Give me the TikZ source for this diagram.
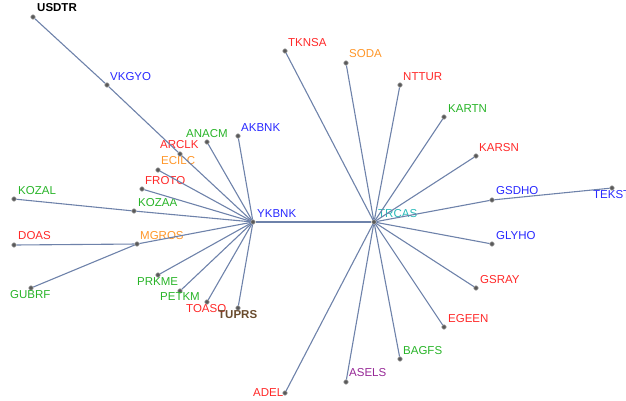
\documentclass[tikz,border=0pt]{standalone}
\usepackage{fontspec}
\setmainfont{Liberation Sans}

\definecolor{edgeblue}{RGB}{110,130,170}
\definecolor{tred}{RGB}{255,40,40}
\definecolor{tgreen}{RGB}{40,180,40}
\definecolor{tblue}{RGB}{40,40,255}
\definecolor{torange}{RGB}{255,150,40}
\definecolor{tteal}{RGB}{40,185,185}
\definecolor{tpurple}{RGB}{150,40,150}
\definecolor{tbrown}{RGB}{105,75,45}

\tikzset{
  dot/.style={circle, inner sep=0pt, minimum size=4.5pt, fill=black!65, draw=black!35, line width=0.6pt},
  lbl/.style={anchor=west, inner sep=0pt, font=\fontsize{11.5}{13}\selectfont},
  link/.style={edgeblue, line width=1.1pt}
}

\begin{document}
\begin{tikzpicture}[x=1pt, y=-1pt]

    \useasboundingbox (0,0) rectangle (626,400);

    % left cluster
    \node[dot] (usdtr) at (33,17) {};
    \node[lbl, text=black, font=\fontsize{11.5}{13}\selectfont\bfseries] (usdtr-l) at (37,8) {USDTR};
    \node[dot] (vkgyo) at (107,85) {};
    \node[lbl, text=tblue] (vkgyo-l) at (110,77) {VKGYO};
    \node[dot] (arclk) at (180,154) {};
    \node[lbl, text=tred] (arclk-l) at (160,145) {ARCLK};
    \node[dot] (anacm) at (207,142) {};
    \node[lbl, text=tgreen] (anacm-l) at (186,134) {ANACM};
    \node[dot] (akbnk) at (238,136) {};
    \node[lbl, text=tblue] (akbnk-l) at (241,128) {AKBNK};
    \node[dot] (ecilc) at (158,170) {};
    \node[lbl, text=torange] (ecilc-l) at (161,161) {ECILC};
    \node[dot] (froto) at (142,189) {};
    \node[lbl, text=tred] (froto-l) at (145,181) {FROTO};
    \node[dot] (kozal) at (14,199) {};
    \node[lbl, text=tgreen] (kozal-l) at (18,191) {KOZAL};
    \node[dot] (kozaa) at (134,211) {};
    \node[lbl, text=tgreen] (kozaa-l) at (138,203) {KOZAA};
    \node[dot] (ykbnk) at (253,222) {};
    \node[lbl, text=tblue] (ykbnk-l) at (257,214) {YKBNK};
    \node[dot] (doas) at (14,245) {};
    \node[lbl, text=tred] (doas-l) at (18,236) {DOAS};
    \node[dot] (mgros) at (137,244) {};
    \node[lbl, text=torange] (mgros-l) at (140,236) {MGROS};
    \node[dot] (gubrf) at (31,288) {};
    \node[lbl, text=tgreen] (gubrf-l) at (10,295) {GUBRF};
    \node[dot] (prkme) at (158,275) {};
    \node[lbl, text=tgreen] (prkme-l) at (137,282) {PRKME};
    \node[dot] (petkm) at (180,291) {};
    \node[lbl, text=tgreen] (petkm-l) at (160,297) {PETKM};
    \node[dot] (toaso) at (207,302) {};
    \node[lbl, text=tred] (toaso-l) at (186,309) {TOASO};
    \node[dot] (tuprs) at (238,308) {};
    \node[lbl, text=tbrown, font=\fontsize{11.5}{13}\selectfont\bfseries] (tuprs-l) at (218,315) {TUPRS};

    % right cluster
    \node[dot] (trcas) at (374,222) {};
    \node[lbl, text=tteal] (trcas-l) at (378,214) {TRCAS};
    \node[dot] (tknsa) at (285,51) {};
    \node[lbl, text=tred] (tknsa-l) at (288,43) {TKNSA};
    \node[dot] (soda) at (346,63) {};
    \node[lbl, text=torange] (soda-l) at (349,54) {SODA};
    \node[dot] (nttur) at (400,85) {};
    \node[lbl, text=tred] (nttur-l) at (403,77) {NTTUR};
    \node[dot] (kartn) at (444,117) {};
    \node[lbl, text=tgreen] (kartn-l) at (448,109) {KARTN};
    \node[dot] (karsn) at (476,156) {};
    \node[lbl, text=tred] (karsn-l) at (479,148) {KARSN};
    \node[dot] (gsdho) at (492,200) {};
    \node[lbl, text=tblue] (gsdho-l) at (496,191) {GSDHO};
    \node[dot] (tekst) at (612,188) {};
    \node[lbl, text=tblue] (tekst-l) at (593,195) {TEKST};
    \node[dot] (glyho) at (492,244) {};
    \node[lbl, text=tblue] (glyho-l) at (496,236) {GLYHO};
    \node[dot] (gsray) at (476,288) {};
    \node[lbl, text=tred] (gsray-l) at (480,280) {GSRAY};
    \node[dot] (egeen) at (444,327) {};
    \node[lbl, text=tred] (egeen-l) at (448,319) {EGEEN};
    \node[dot] (bagfs) at (400,359) {};
    \node[lbl, text=tgreen] (bagfs-l) at (403,351) {BAGFS};
    \node[dot] (asels) at (346,382) {};
    \node[lbl, text=tpurple] (asels-l) at (349,373) {ASELS};
    \node[dot] (adel) at (285,393) {};
    \node[lbl, text=tred] (adel-l) at (253,393) {ADEL};

    % edges
    \draw[link] (usdtr) -- (vkgyo);
    \draw[link] (vkgyo) -- (arclk);
    \draw[link] (arclk) -- (ykbnk);
    \draw[link] (anacm) -- (ykbnk);
    \draw[link] (akbnk) -- (ykbnk);
    \draw[link] (ecilc) -- (ykbnk);
    \draw[link] (froto) -- (ykbnk);
    \draw[link] (kozal) -- (kozaa);
    \draw[link] (kozaa) -- (ykbnk);
    \draw[link] (doas) -- (mgros);
    \draw[link] (gubrf) -- (mgros);
    \draw[link] (mgros) -- (ykbnk);
    \draw[link] (prkme) -- (ykbnk);
    \draw[link] (petkm) -- (ykbnk);
    \draw[link] (toaso) -- (ykbnk);
    \draw[link] (tuprs) -- (ykbnk);
    \draw[link] (ykbnk) -- (trcas);

    \draw[link] (tknsa) -- (trcas);
    \draw[link] (soda) -- (trcas);
    \draw[link] (nttur) -- (trcas);
    \draw[link] (kartn) -- (trcas);
    \draw[link] (karsn) -- (trcas);
    \draw[link] (gsdho) -- (trcas);
    \draw[link] (tekst) -- (gsdho);
    \draw[link] (glyho) -- (trcas);
    \draw[link] (gsray) -- (trcas);
    \draw[link] (egeen) -- (trcas);
    \draw[link] (bagfs) -- (trcas);
    \draw[link] (asels) -- (trcas);
    \draw[link] (adel) -- (trcas);

\end{tikzpicture}
\end{document}
